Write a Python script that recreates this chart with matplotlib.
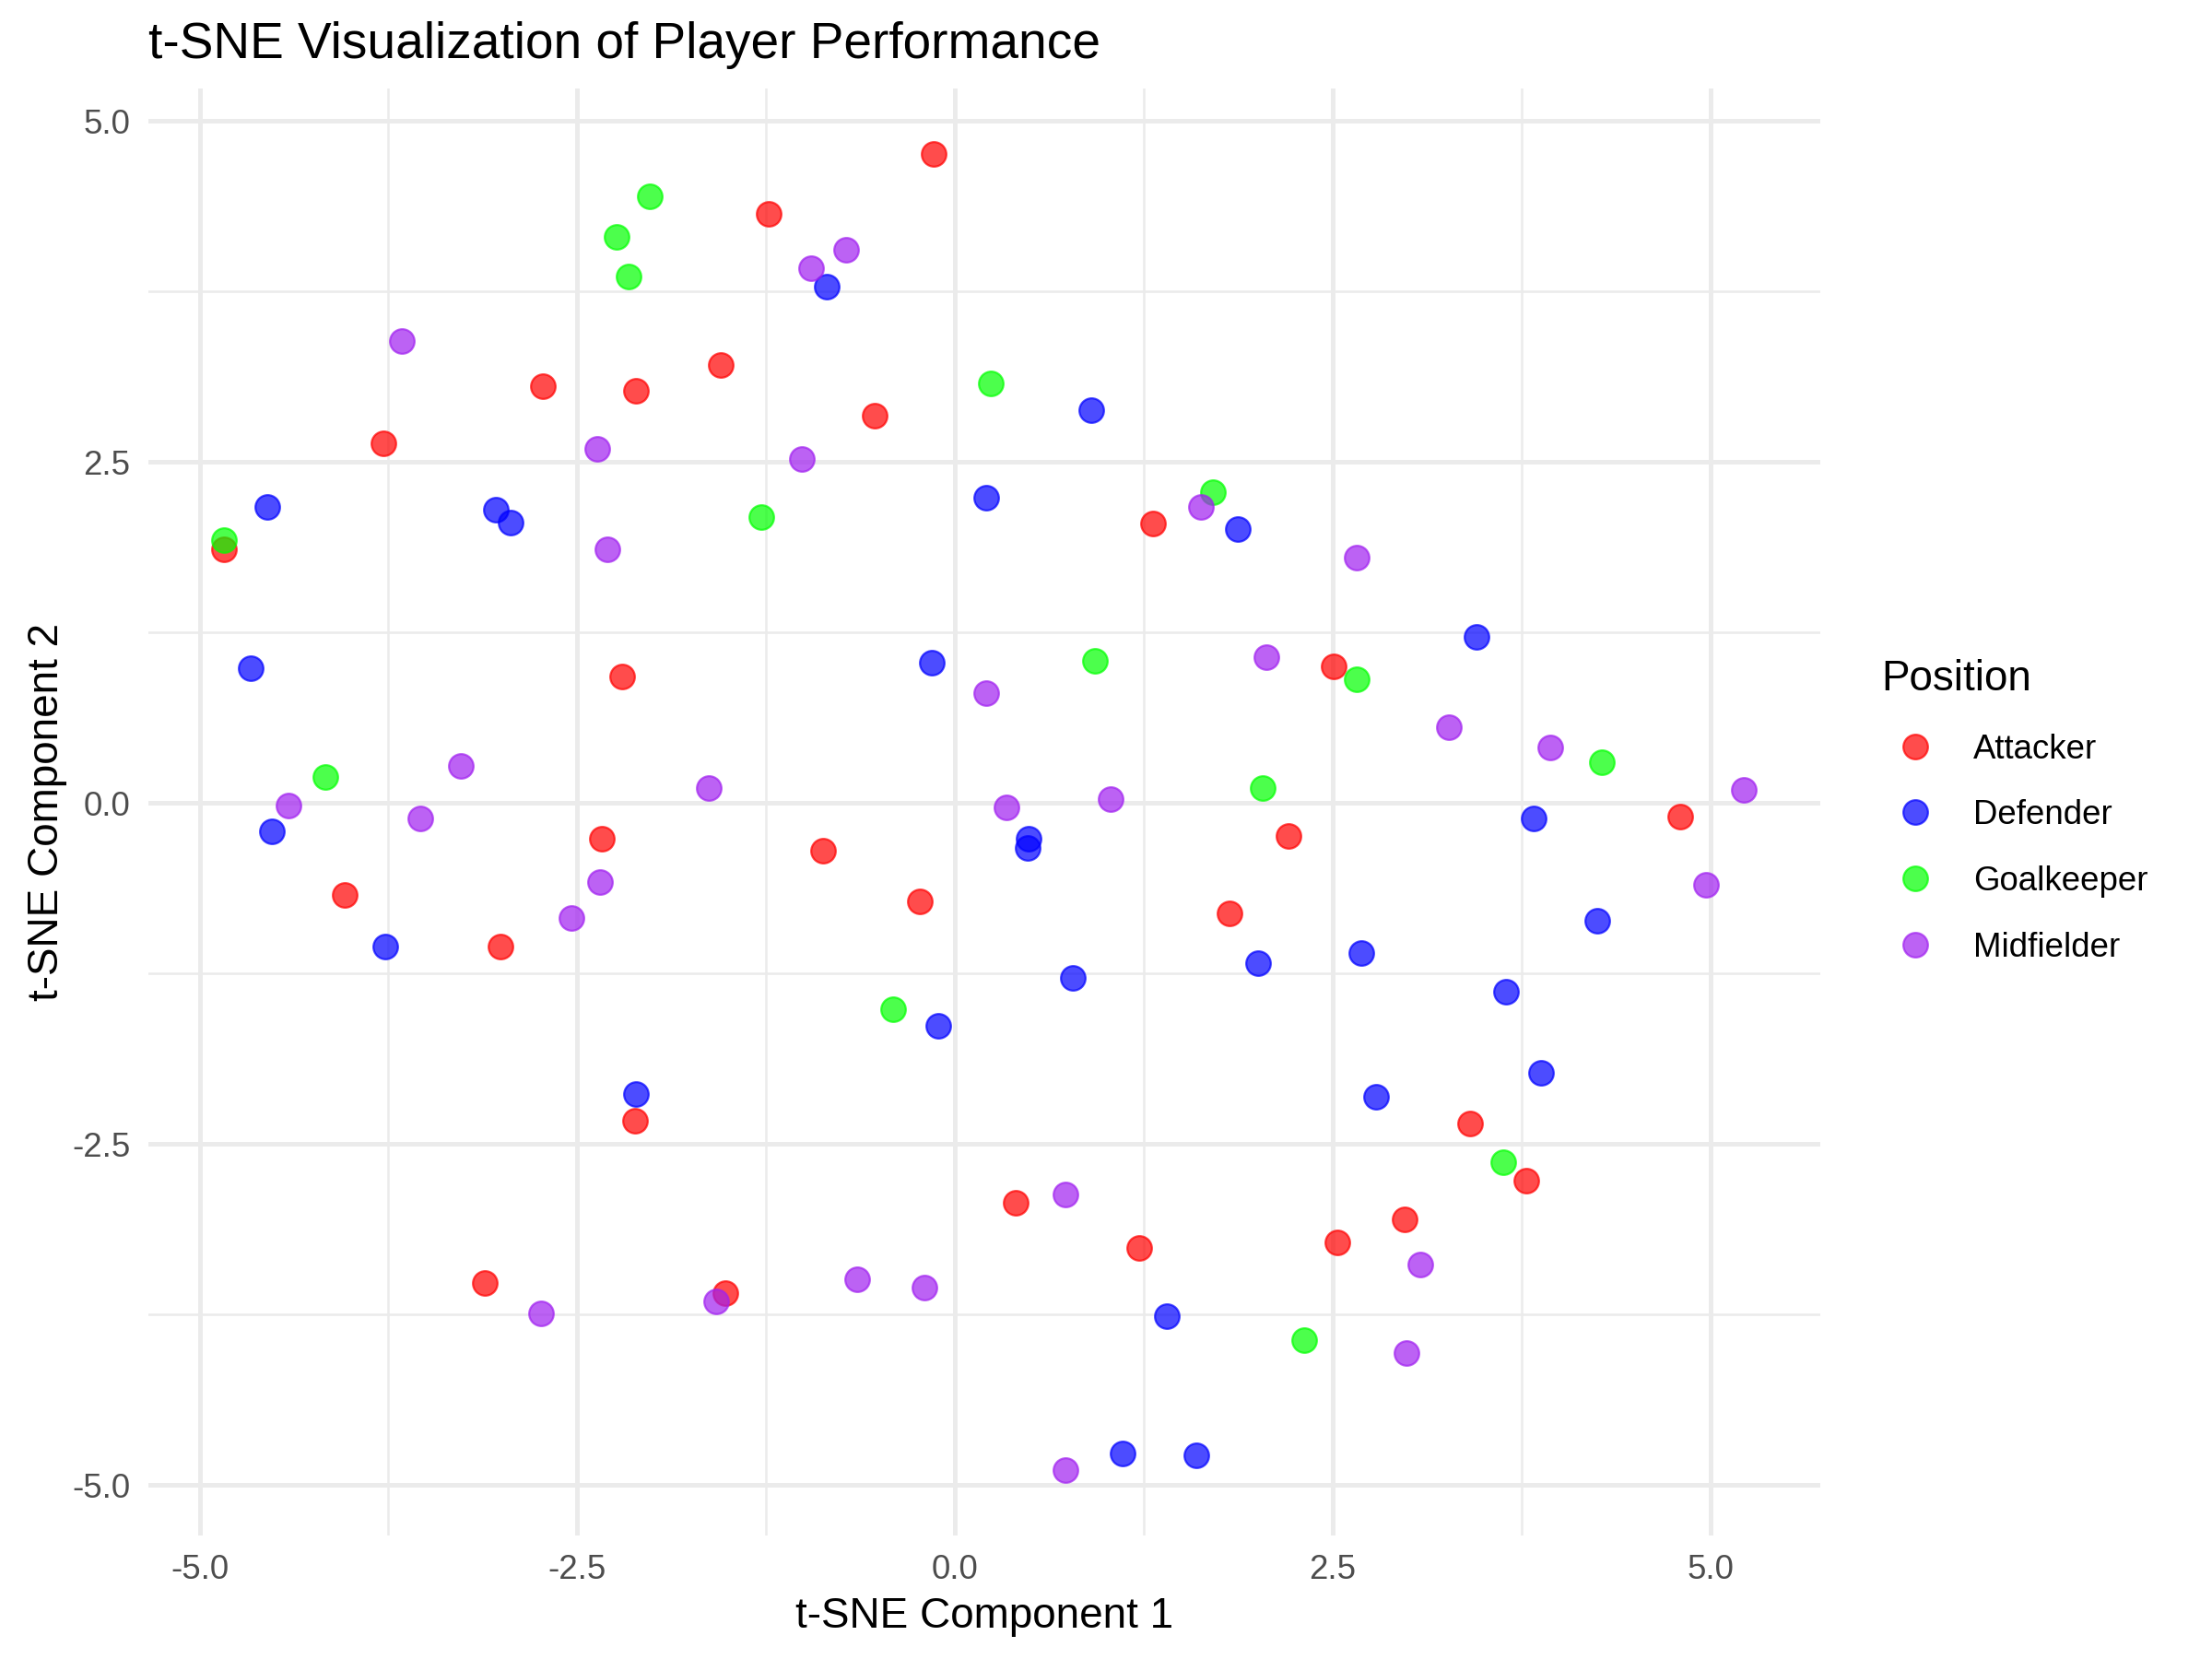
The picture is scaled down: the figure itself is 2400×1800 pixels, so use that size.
import matplotlib
matplotlib.use("Agg")
import matplotlib.pyplot as plt
from matplotlib.lines import Line2D
from matplotlib.ticker import MultipleLocator, FormatStrFormatter

plt.rcParams['font.family'] = ['Liberation Sans', 'DejaVu Sans']
plt.rcParams['axes.unicode_minus'] = False

positions = ["Attacker", "Defender", "Goalkeeper", "Midfielder"]
colors = {"Attacker": "#FF0000", "Defender": "#0000FF",
          "Goalkeeper": "#00FF00", "Midfielder": "#A020F0"}

attacker_x = [-0.14, -1.23, -2.73, -2.11, -1.55, -3.78, -0.53, -4.84, -2.20, 1.31,
              2.51, -2.34, -0.87, -0.23, 2.21, -4.04, -3.01, 1.82, 4.80, -2.12,
              3.41, 3.78, 0.40, 2.98, 1.22, 2.53, -3.11, -1.52]
attacker_y = [4.76, 4.32, 3.06, 3.02, 3.21, 2.64, 2.84, 1.86, 0.93, 2.05,
              1.00, -0.26, -0.35, -0.72, -0.24, -0.67, -1.05, -0.81, -0.10, -2.33,
              -2.35, -2.77, -2.93, -3.05, -3.26, -3.22, -3.52, -3.59]

defender_x = [-0.85, 0.90, -4.55, -3.04, -2.94, 0.21, 1.87, -4.66, -0.15, 3.45,
              -4.52, 0.49, 0.48, 3.83, -3.77, 0.78, 2.01, 2.69, 4.25, 3.65,
              -0.11, -2.11, 2.79, 3.88, 1.40, 1.11, 1.60]
defender_y = [3.79, 2.88, 2.17, 2.15, 2.06, 2.24, 2.01, 0.99, 1.03, 1.22,
              -0.21, -0.26, -0.33, -0.11, -1.05, -1.28, -1.17, -1.10, -0.86, -1.38,
              -1.63, -2.13, -2.15, -1.98, -3.76, -4.77, -4.78]

goalkeeper_x = [-2.02, -2.24, -2.16, 0.24, -1.28, 1.71, -4.84, 0.93, 2.66, -4.17,
                2.04, 4.28, -0.41, 3.63, 2.31]
goalkeeper_y = [4.45, 4.15, 3.86, 3.08, 2.10, 2.28, 1.93, 1.04, 0.91, 0.19,
                0.11, 0.30, -1.51, -2.63, -3.94]

midfielder_x = [-0.72, -0.95, -3.66, -2.37, -1.01, -2.30, 1.63, 2.66, 2.06, 0.21,
                3.27, 3.94, -3.27, -4.41, -3.54, -1.63, 0.34, 1.03, 5.22, 4.97,
                -2.35, -2.54, 0.73, 3.08, -0.65, -0.20, -1.58, -2.74, 2.99, 0.73]
midfielder_y = [4.06, 3.92, 3.39, 2.60, 2.52, 1.86, 2.17, 1.80, 1.07, 0.81,
                0.56, 0.41, 0.27, -0.02, -0.11, 0.11, -0.03, 0.03, 0.10, -0.60,
                -0.58, -0.84, -2.87, -3.38, -3.49, -3.55, -3.65, -3.74, -4.03, -4.89]

data = {
    "Attacker": (attacker_x, attacker_y),
    "Defender": (defender_x, defender_y),
    "Goalkeeper": (goalkeeper_x, goalkeeper_y),
    "Midfielder": (midfielder_x, midfielder_y),
}

x_ticks = [-5.0, -2.5, 0.0, 2.5, 5.0]
y_ticks = [-5.0, -2.5, 0.0, 2.5, 5.0]

fig = plt.figure(figsize=(12, 9), dpi=200)
ax = fig.add_axes([0.067, 0.0744, 0.756, 0.8723])

for pos in positions:
    xs, ys = data[pos]
    ax.scatter(xs, ys, s=92, color=colors[pos], alpha=0.7,
               edgecolors=colors[pos], linewidths=0.8, zorder=3)

ax.set_xlim(-5.34, 5.73)
ax.set_ylim(-5.37, 5.24)
ax.set_xticks(x_ticks)
ax.set_yticks(y_ticks)
ax.xaxis.set_major_formatter(FormatStrFormatter('%.1f'))
ax.yaxis.set_major_formatter(FormatStrFormatter('%.1f'))
ax.xaxis.set_minor_locator(MultipleLocator(1.25))
ax.yaxis.set_minor_locator(MultipleLocator(1.25))

ax.grid(which='major', color='#EBEBEB', linewidth=1.8, zorder=0)
ax.grid(which='minor', color='#EBEBEB', linewidth=0.9, zorder=0)
ax.set_axisbelow(True)
for sp in ax.spines.values():
    sp.set_visible(False)
ax.tick_params(which='both', length=0)
ax.tick_params(axis='both', which='major', labelsize=13.2, labelcolor='#4D4D4D', pad=7)

ax.set_xlabel("t-SNE Component 1", fontsize=16.5, color='black', labelpad=4)
ax.set_ylabel("t-SNE Component 2", fontsize=16.5, color='black', labelpad=2)
ax.set_title("t-SNE Visualization of Player Performance", fontsize=19.8,
             loc='left', color='black', pad=12)

handles = [Line2D([], [], linestyle='none', marker='o', markersize=9.6,
                  markerfacecolor=colors[p], markeredgecolor=colors[p],
                  markeredgewidth=0.8, alpha=0.7, label=p) for p in positions]
leg = fig.legend(handles=handles, title="Position", loc='center left',
                 bbox_to_anchor=(0.843, 0.511), frameon=False,
                 fontsize=13.2, title_fontsize=16.5, labelspacing=1.0,
                 handlelength=2.0, handletextpad=0.72, borderpad=0)
leg._legend_box.align = "left"

fig.savefig("out.png", dpi=200, facecolor='white')
